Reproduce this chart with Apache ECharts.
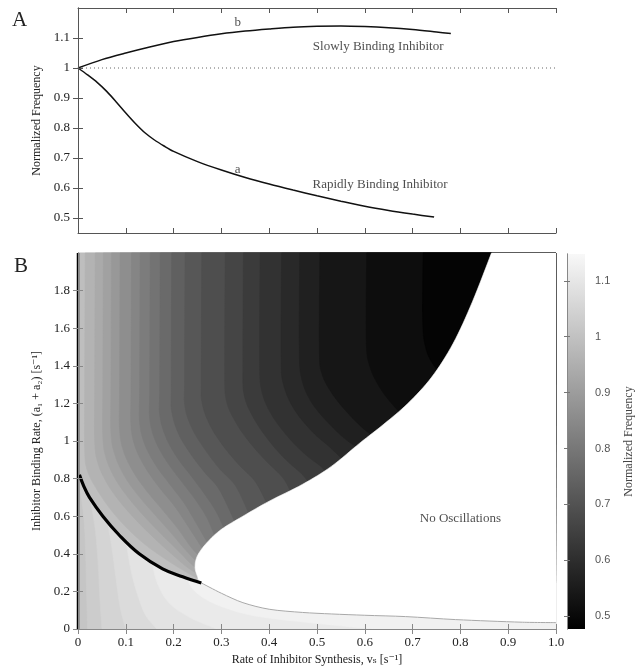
<!DOCTYPE html>
<html lang="en">
<head>
<meta charset="UTF-8">
<title>Normalized Frequency</title>
<style>
    html, body { margin: 0; padding: 0; background: #fff; }
    #container { width: 644px; height: 669px; }
</style>
</head>
<body>
<div id="container"></div>
<script src="https://cdn.jsdelivr.net/npm/echarts@6.0.0/dist/echarts.min.js"></script>
<script>
    var serif = '"Liberation Serif", "DejaVu Serif", serif';
    var sans = '"Liberation Sans", "DejaVu Sans", sans-serif';

    // ---- panel A : normalized frequency vs synthesis rate ----
    var slowVs   = [0, 0.05, 0.1, 0.15, 0.2, 0.25, 0.3, 0.35, 0.4, 0.45, 0.5, 0.55, 0.6, 0.65, 0.7, 0.75, 0.78];
    var slowFreq = [1.0, 1.028, 1.05, 1.07, 1.088, 1.102, 1.114, 1.123, 1.13, 1.136, 1.139, 1.14, 1.138, 1.134, 1.128, 1.12, 1.115];
    var rapidVs   = [0, 0.02, 0.04, 0.06, 0.08, 0.1, 0.12, 0.14, 0.16, 0.18, 0.2, 0.25, 0.3, 0.35, 0.4, 0.45, 0.5, 0.55, 0.6, 0.65, 0.7, 0.745];
    var rapidFreq = [1.0, 0.977, 0.952, 0.922, 0.887, 0.85, 0.815, 0.784, 0.76, 0.74, 0.722, 0.688, 0.66, 0.635, 0.613, 0.593, 0.574, 0.556, 0.539, 0.525, 0.513, 0.503];
    var refFreq = 1;

    var freqTicks = [0.5, 0.6, 0.7, 0.8, 0.9, 1, 1.1];
    var rateTicks = [0, 0.2, 0.4, 0.6, 0.8, 1, 1.2, 1.4, 1.6, 1.8];
    var cbTicks = [0.5, 0.6, 0.7, 0.8, 0.9, 1, 1.1];
    var cbMin = 0.477, cbMax = 1.148;

    var textA = [
        {name: 'b', value: [0.334, 1.15]},
        {name: 'a', value: [0.334, 0.662]},
        {name: 'Slowly Binding Inhibitor', value: [0.628, 1.073]},
        {name: 'Rapidly Binding Inhibitor', value: [0.632, 0.611]}
    ];
    var textB = [{name: 'No Oscillations', value: [0.80, 0.59]}];

    // ---- panel B : (vs, a1+a2) map ----
    // thick curve
    var boldCurve = [[0.003, 0.82], [0.012, 0.76], [0.024, 0.70], [0.052, 0.60], [0.086, 0.50],
        [0.128, 0.40], [0.177, 0.32], [0.219, 0.278], [0.258, 0.245]];
    // edge of the oscillating region (upper branch, nose, lower branch)
    var boundary = [[0.865, 2.0], [0.825, 1.74], [0.785, 1.52], [0.74, 1.34], [0.69, 1.2], [0.64, 1.09],
        [0.59, 0.99], [0.53, 0.865], [0.47, 0.77], [0.40, 0.68], [0.345, 0.60], [0.30, 0.53], [0.27, 0.46],
        [0.25, 0.39], [0.245, 0.33], [0.25, 0.28], [0.258, 0.245], [0.30, 0.19], [0.345, 0.14], [0.40, 0.105],
        [0.47, 0.088], [0.53, 0.08], [0.6, 0.073], [0.685, 0.066], [0.79, 0.05], [0.93, 0.036], [1.0, 0.034]];
    var noseIndex = 16;

    // frequency contours above the thick curve
    var upperLevels = [0.975, 0.95, 0.925, 0.9, 0.875, 0.85, 0.825, 0.8, 0.775, 0.75,
        0.725, 0.7, 0.675, 0.65, 0.625, 0.6, 0.575, 0.55, 0.525, 0.5];
    var upperContours = [
        [[0.015, 2], [0.014, 1.3], [0.014, 0.95], [0.02, 0.84], [0.04, 0.74], [0.07, 0.63], [0.105, 0.53], [0.145, 0.44], [0.19, 0.36], [0.225, 0.305], [0.26, 0.255]],
        [[0.036, 2], [0.035, 1.3], [0.035, 1.0], [0.042, 0.88], [0.062, 0.77], [0.09, 0.67], [0.125, 0.57], [0.165, 0.47], [0.2, 0.39], [0.228, 0.33], [0.255, 0.285]],
        [[0.053, 2], [0.052, 1.3], [0.052, 1.02], [0.06, 0.9], [0.08, 0.79], [0.108, 0.69], [0.142, 0.59], [0.18, 0.49], [0.212, 0.41], [0.235, 0.35], [0.255, 0.31]],
        [[0.07, 2], [0.069, 1.3], [0.069, 1.04], [0.078, 0.92], [0.098, 0.81], [0.126, 0.71], [0.16, 0.61], [0.195, 0.51], [0.225, 0.42], [0.255, 0.34]],
        [[0.088, 2], [0.087, 1.3], [0.087, 1.06], [0.096, 0.94], [0.117, 0.83], [0.145, 0.73], [0.178, 0.63], [0.21, 0.53], [0.235, 0.44], [0.26, 0.37]],
        [[0.112, 2], [0.111, 1.3], [0.111, 1.08], [0.121, 0.96], [0.143, 0.85], [0.171, 0.75], [0.203, 0.65], [0.232, 0.54], [0.265, 0.41]],
        [[0.13, 2], [0.129, 1.3], [0.129, 1.1], [0.14, 0.98], [0.163, 0.87], [0.192, 0.77], [0.222, 0.67], [0.248, 0.56], [0.275, 0.44]],
        [[0.151, 2], [0.15, 1.3], [0.15, 1.12], [0.162, 1.0], [0.186, 0.89], [0.215, 0.79], [0.245, 0.69], [0.27, 0.59], [0.29, 0.47]],
        [[0.172, 2], [0.171, 1.3], [0.171, 1.14], [0.184, 1.02], [0.208, 0.91], [0.238, 0.81], [0.267, 0.71], [0.29, 0.62], [0.31, 0.51]],
        [[0.196, 2], [0.195, 1.3], [0.196, 1.16], [0.21, 1.04], [0.236, 0.93], [0.266, 0.83], [0.296, 0.74], [0.33, 0.56]],
        [[0.224, 2], [0.223, 1.35], [0.224, 1.18], [0.24, 1.06], [0.267, 0.95], [0.297, 0.85], [0.33, 0.76], [0.36, 0.6]],
        [[0.259, 2], [0.258, 1.35], [0.26, 1.2], [0.277, 1.08], [0.305, 0.97], [0.338, 0.87], [0.372, 0.78], [0.4, 0.64]],
        [[0.308, 2], [0.307, 1.4], [0.31, 1.22], [0.33, 1.1], [0.36, 0.99], [0.395, 0.89], [0.43, 0.8], [0.45, 0.7]],
        [[0.346, 2], [0.345, 1.4], [0.348, 1.24], [0.368, 1.12], [0.4, 1.0], [0.435, 0.9], [0.47, 0.82], [0.49, 0.75]],
        [[0.381, 2], [0.38, 1.45], [0.384, 1.27], [0.405, 1.14], [0.44, 1.02], [0.475, 0.93], [0.51, 0.86], [0.53, 0.8]],
        [[0.426, 2], [0.425, 1.45], [0.43, 1.3], [0.452, 1.17], [0.49, 1.05], [0.53, 0.96], [0.57, 0.86]],
        [[0.464, 2], [0.463, 1.5], [0.468, 1.33], [0.49, 1.2], [0.53, 1.08], [0.57, 0.99], [0.61, 0.94]],
        [[0.506, 2], [0.505, 1.5], [0.51, 1.36], [0.535, 1.24], [0.575, 1.12], [0.61, 1.04], [0.65, 0.98]],
        [[0.604, 2], [0.603, 1.55], [0.61, 1.4], [0.635, 1.27], [0.67, 1.16], [0.7, 1.08]],
        [[0.722, 2], [0.721, 1.65], [0.727, 1.5], [0.745, 1.4], [0.78, 1.3]]
    ];

    // frequency contours below the thick curve (values above 1)
    var lowerLevels = [1.02, 1.04, 1.06, 1.08, 1.10, 1.12];
    var lowerContours = [
        [[0.0, 0.82], [0.012, 0.6], [0.016, 0.4], [0.018, 0.2], [0.02, 0]],
        [[0.02, 0.76], [0.035, 0.55], [0.042, 0.35], [0.046, 0.15], [0.05, 0]],
        [[0.058, 0.62], [0.07, 0.45], [0.078, 0.3], [0.088, 0.12], [0.1, 0]],
        [[0.1, 0.48], [0.108, 0.35], [0.12, 0.22], [0.14, 0.08], [0.165, 0]],
        [[0.155, 0.36], [0.165, 0.25], [0.19, 0.14], [0.235, 0.06], [0.29, 0]],
        [[0.225, 0.28], [0.245, 0.2], [0.29, 0.13], [0.37, 0.07], [0.5, 0.03], [0.62, 0]]
    ];

    // filled bands, painted in order (later ones on top)
    // each band: straight head points, a curved edge, straight tail points
    var bandShapes = [];
    var bandValues = [];
    function addBand(head, curve, tail, value) {
        bandShapes.push({head: head, curve: curve, tail: tail});
        bandValues.push([value, bandShapes.length - 1]);
    }
    addBand([[0, 0], [1, 0], [1, 2], [0, 2]], [], [], 1.01);
    lowerContours.forEach(function (c, i) {
        addBand([], c, [[1, 0], [1, c[0][1]]], lowerLevels[i] + 0.01);
    });
    var boldEnd = boldCurve[boldCurve.length - 1];
    addBand([[0, 2], [0, boldCurve[0][1]]], boldCurve, [[1, boldEnd[1]], [1, 2]], 0.99);
    upperContours.forEach(function (c, i) {
        var last = c[c.length - 1];
        addBand([], c, [[1, last[1]], [1, 2]], upperLevels[i] - 0.0125);
    });
    addBand([], boundary, [[1, 2]], -1);   // no oscillations -> white

    // smooth a pixel polyline (catmull-rom), used for the band edges
    function smoothPixels(pts) {
        if (pts.length < 3) return pts.slice();
        var out = [pts[0]];
        for (var i = 0; i < pts.length - 1; i++) {
            var p0 = pts[i - 1] || pts[i], p1 = pts[i], p2 = pts[i + 1], p3 = pts[i + 2] || pts[i + 1];
            for (var s = 1; s <= 8; s++) {
                var t = s / 8, t2 = t * t, t3 = t2 * t;
                var x = 0.5 * ((2 * p1[0]) + (-p0[0] + p2[0]) * t + (2 * p0[0] - 5 * p1[0] + 4 * p2[0] - p3[0]) * t2 + (-p0[0] + 3 * p1[0] - 3 * p2[0] + p3[0]) * t3);
                var y = 0.5 * ((2 * p1[1]) + (-p0[1] + p2[1]) * t + (2 * p0[1] - 5 * p1[1] + 4 * p2[1] - p3[1]) * t2 + (-p0[1] + 3 * p1[1] - 3 * p2[1] + p3[1]) * t3);
                out.push([x, y]);
            }
        }
        return out;
    }

    function zip(a, b) {
        return a.map(function (v, i) { return [v, b[i]]; });
    }
    function numLabel(v) {
        if (Math.abs(v) < 1e-9) return '0';
        if (Math.abs(v - 1) < 1e-9) return '1';
        return v.toFixed(1);
    }

    var frameA = '#555';
    var frameB = '#888';
    function tickOnly(gridIndex, pos, color, extra) {
        var ax = {
            gridIndex: gridIndex, type: 'value', position: pos, z: 5,
            axisLine: {show: true, lineStyle: {color: color, width: 1}},
            axisTick: {show: true, inside: true, length: 5, lineStyle: {color: color}},
            axisLabel: {show: false},
            splitLine: {show: false}
        };
        for (var k in extra) ax[k] = extra[k];
        return ax;
    }

    var dom = document.getElementById('container');
    var myChart = echarts.init(dom, null, {renderer: 'canvas'});

    var option = {
        animation: false,
        backgroundColor: '#fff',
        title: [
            {text: 'A', left: 12, top: 10, padding: 0,
                textStyle: {fontFamily: serif, fontSize: 21, fontWeight: 'normal', color: '#222'}},
            {text: 'B', left: 14, top: 256, padding: 0,
                textStyle: {fontFamily: serif, fontSize: 21, fontWeight: 'normal', color: '#222'}}
        ],
        grid: [
            {left: 78, top: 8, width: 478, height: 225, outerBoundsMode: 'none'},
            {left: 78, top: 253, width: 478, height: 376, outerBoundsMode: 'none'},
            {left: 567, top: 254, width: 18, height: 375, outerBoundsMode: 'none'}
        ],
        xAxis: [
            tickOnly(0, 'bottom', frameA, {min: 0, max: 1, interval: 0.1}),
            tickOnly(0, 'top', frameA, {min: 0, max: 1, interval: 0.1}),
            tickOnly(1, 'bottom', frameB, {
                min: 0, max: 1, interval: 0.1,
                axisLabel: {show: true, margin: 7, fontFamily: serif, fontSize: 13, color: '#222',
                    formatter: function (v) { return Math.abs(v - 1) < 1e-9 ? '1.0' : numLabel(v); }},
                name: 'Rate of Inhibitor Synthesis, vₛ [s⁻¹]', nameLocation: 'middle', nameGap: 21,
                nameTextStyle: {fontFamily: serif, fontSize: 12, color: '#222'}
            }),
            tickOnly(1, 'top', frameB, {min: 0, max: 1, interval: 0.1}),
            {gridIndex: 2, type: 'value', min: 0, max: 1, show: false}
        ],
        yAxis: [
            tickOnly(0, 'left', frameA, {
                min: 0.45, max: 1.2,
                axisTick: {show: true, inside: true, length: 5, lineStyle: {color: frameA}, customValues: freqTicks},
                axisLabel: {show: true, margin: 8, fontFamily: serif, fontSize: 13, color: '#222',
                    customValues: freqTicks, formatter: numLabel},
                name: 'Normalized Frequency', nameLocation: 'middle', nameGap: 32,
                nameTextStyle: {fontFamily: serif, fontSize: 12, color: '#222'}
            }),
            tickOnly(0, 'right', frameA, {
                min: 0.45, max: 1.2,
                axisTick: {show: true, inside: true, length: 5, lineStyle: {color: frameA}, customValues: freqTicks}
            }),
            tickOnly(1, 'left', frameB, {
                min: 0, max: 2,
                axisTick: {show: true, inside: true, length: 5, lineStyle: {color: frameB}, customValues: rateTicks},
                axisLabel: {show: true, margin: 8, fontFamily: serif, fontSize: 13, color: '#222',
                    customValues: rateTicks, formatter: numLabel},
                name: 'Inhibitor Binding Rate, (a₁ + a₂) [s⁻¹]', nameLocation: 'middle', nameGap: 32,
                nameTextStyle: {fontFamily: serif, fontSize: 12, color: '#222'}
            }),
            tickOnly(1, 'right', frameB, {
                min: 0, max: 2,
                axisTick: {show: true, inside: true, length: 5, lineStyle: {color: frameB}, customValues: rateTicks}
            }),
            tickOnly(2, 'right', frameB, {
                min: cbMin, max: cbMax,
                axisTick: {show: true, inside: true, length: 3, lineStyle: {color: '#777'}, customValues: cbTicks},
                axisLabel: {show: true, margin: 10, fontFamily: sans, fontSize: 11, color: '#555',
                    customValues: cbTicks, formatter: numLabel},
                name: 'Normalized Frequency', nameLocation: 'middle', nameGap: 38, nameRotate: 90,
                nameTextStyle: {fontFamily: serif, fontSize: 12, color: '#444'}
            }),
            tickOnly(2, 'left', frameB, {
                min: cbMin, max: cbMax,
                axisTick: {show: true, inside: true, length: 3, lineStyle: {color: '#777'}, customValues: cbTicks}
            })
        ],
        visualMap: [{
            type: 'continuous', show: false, seriesIndex: 4, dimension: 0,
            min: cbMin, max: cbMax,
            inRange: {color: ['#000000', '#f8f8f8']}
        }],
        series: [
            {
                type: 'line', xAxisIndex: 0, yAxisIndex: 0, data: zip(slowVs, slowFreq),
                smooth: 0.3, symbol: 'none', lineStyle: {color: '#111', width: 1.5}
            },
            {
                type: 'line', xAxisIndex: 0, yAxisIndex: 0, data: zip(rapidVs, rapidFreq),
                smooth: 0.3, symbol: 'none', lineStyle: {color: '#111', width: 1.5}
            },
            {
                type: 'line', xAxisIndex: 0, yAxisIndex: 0, data: [[0, refFreq], [1, refFreq]],
                symbol: 'none', lineStyle: {color: '#666', width: 1, type: [1, 3]}
            },
            {
                type: 'scatter', xAxisIndex: 0, yAxisIndex: 0, data: textA, symbolSize: 0,
                label: {show: true, position: 'inside', formatter: '{b}',
                    fontFamily: serif, fontSize: 13, color: '#222'}
            },
            {
                // frequency map, drawn as filled contour bands
                type: 'custom', xAxisIndex: 2, yAxisIndex: 2, data: bandValues,
                encode: {x: -1, y: -1},
                renderItem: function (params, api) {
                    var band = bandShapes[api.value(1)];
                    var toPx = function (p) { return api.coord(p); };
                    var pts = band.head.map(toPx)
                        .concat(smoothPixels(band.curve.map(toPx)))
                        .concat(band.tail.map(toPx));
                    var c = api.value(0) < 0 ? '#ffffff' : api.visual('color');
                    return {type: 'polygon', shape: {points: pts},
                        style: {fill: c, stroke: c, lineWidth: 0.6}};
                },
                z: 1
            },
            {
                type: 'line', xAxisIndex: 2, yAxisIndex: 2, data: boundary.slice(noseIndex),
                smooth: 0.3, symbol: 'none', lineStyle: {color: '#a8a8a8', width: 1}, z: 3
            },
            {
                type: 'line', xAxisIndex: 2, yAxisIndex: 2, data: boldCurve,
                smooth: 0.4, symbol: 'none', lineStyle: {color: '#000', width: 3.2}, z: 4
            },
            {
                type: 'line', xAxisIndex: 2, yAxisIndex: 2, data: [[0, 0], [0, 2]],
                symbol: 'none', lineStyle: {color: '#000', width: 2.5}, z: 4
            },
            {
                type: 'scatter', xAxisIndex: 2, yAxisIndex: 2, data: textB, symbolSize: 0,
                label: {show: true, position: 'inside', formatter: '{b}',
                    fontFamily: serif, fontSize: 13, color: '#222'}, z: 5
            },
            {
                // colour key
                type: 'custom', xAxisIndex: 4, yAxisIndex: 4, data: [[0, cbMin, 1, cbMax]],
                renderItem: function (params, api) {
                    var p0 = api.coord([api.value(0), api.value(3)]);
                    var p1 = api.coord([api.value(2), api.value(1)]);
                    return {
                        type: 'rect',
                        shape: {x: p0[0], y: p0[1], width: p1[0] - p0[0], height: p1[1] - p0[1]},
                        style: {
                            fill: new echarts.graphic.LinearGradient(0, 0, 0, 1, [
                                {offset: 0, color: '#f8f8f8'}, {offset: 1, color: '#000000'}
                            ])
                        }
                    };
                },
                z: 1
            }
        ]
    };

    myChart.setOption(option, true);
</script>
</body>
</html>
